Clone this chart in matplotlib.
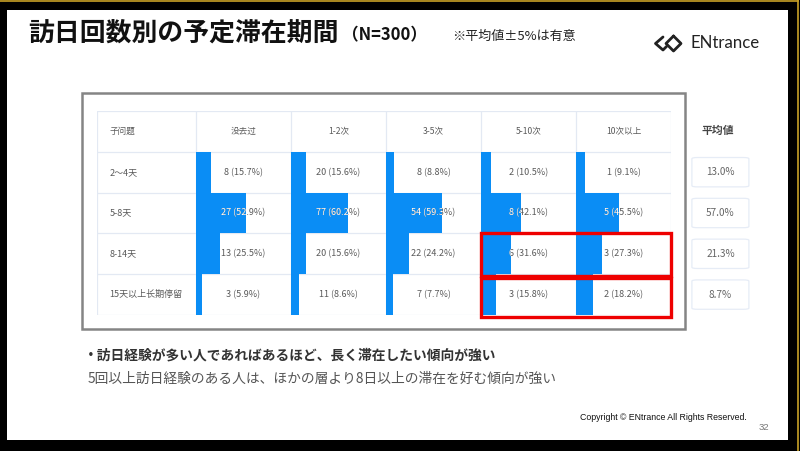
import matplotlib
matplotlib.use("Agg")
import matplotlib.pyplot as plt
from matplotlib.patches import Rectangle, FancyBboxPatch

plt.rcParams['font.family'] = ['Noto Sans CJK SC', 'DejaVu Sans']

# data
row_labels = ['2～4天', '5-8天', '8-14天', '15天以上长期停留']
col_labels = ['没去过', '1-2次', '3-5次', '5-10次', '10次以上']
counts = [[8, 20, 8, 2, 1],
          [27, 77, 54, 8, 5],
          [13, 20, 22, 6, 3],
          [3, 11, 7, 3, 2]]
pcts = [[15.7, 15.6, 8.8, 10.5, 9.1],
        [52.9, 60.2, 59.3, 42.1, 45.5],
        [25.5, 15.6, 24.2, 31.6, 27.3],
        [5.9, 8.6, 7.7, 15.8, 18.2]]
means = [13.0, 57.0, 21.3, 8.7]
highlight_rows = [2, 3]
highlight_cols = [3, 4]

BLUE = '#0A8DF5'
GRID = '#E3E9F3'
TXT = '#5a5a5a'
W, H = 800, 451

fig = plt.figure(figsize=(W / 100, H / 100), dpi=100, facecolor='black')

# background axes in pixel units
bg = fig.add_axes([0, 0, 1, 1])
bg.set_xlim(0, W)
bg.set_ylim(H, 0)
bg.axis('off')
bg.set_facecolor('black')
bg.add_patch(Rectangle((7, 10), 781, 430, facecolor='white', edgecolor='none'))
bg.plot([0, 798], [0.6, 0.6], color='#C9A227', lw=1.2)
bg.plot([797.5, 797.5], [0, 451], color='#C9A227', lw=1.2)

# title
bg.text(28, 33, '訪日回数別の予定滞在期間', fontsize=18.6, fontweight='bold',
        family=['Noto Sans CJK JP'], va='center', ha='left', color='#111')
bg.text(342, 35.5, '（N=300）', fontsize=12, fontweight='bold',
        family=['Noto Sans CJK JP'], va='center', ha='left', color='#111')
bg.text(452, 36, '※平均値±5%は有意', fontsize=9.4,
        family=['Noto Sans CJK JP'], va='center', ha='left', color='#222')

# logo
bg.plot([663, 655.5, 663, 666.5], [37, 43.5, 50, 46.5], color='#222', lw=2,
        solid_joinstyle='round', solid_capstyle='round')
bg.plot([673.5, 681, 673.5, 666, 673.5], [36, 43.5, 51, 43.5, 36], color='#222', lw=2,
        solid_joinstyle='round', solid_capstyle='round')
bg.text(691, 43.5, 'ENtrance', fontsize=12.1, family=['Lato'], va='center',
        ha='left', color='#222')

# outer gray frame
bg.add_patch(Rectangle((82, 93), 603, 236, facecolor='none', edgecolor='#858585', lw=1.8))

# comment lines
bg.text(84, 356, '・訪日経験が多い人であればあるほど、長く滞在したい傾向が強い',
        fontsize=9.9, fontweight='bold', family=['Noto Sans CJK JP'],
        va='center', ha='left', color='#333')
bg.text(88, 379, '5回以上訪日経験のある人は、ほかの層より8日以上の滞在を好む傾向が強い',
        fontsize=9.9, family=['Noto Sans CJK JP'], va='center', ha='left', color='#555')
bg.text(747, 418, 'Copyright © ENtrance All Rights Reserved.', fontsize=6.3,
        family=['Liberation Sans'], va='center', ha='right', color='#111')
bg.text(769, 427, '32', fontsize=6.8, family=['Liberation Sans'], va='center',
        ha='right', color='#777')

# table axes: columns are 1 unit wide, label column slightly wider
ncol = len(col_labels)
nrow = len(row_labels)
lab_w = 99 / 95
tab = fig.add_axes([97 / W, 1 - 315 / H, 574 / W, 204 / H])
tab.set_xlim(-lab_w, ncol)
tab.set_ylim(nrow, -1)
tab.axis('off')

# grid
for y in range(-1, nrow + 1):
    tab.plot([-lab_w, ncol], [y, y], color=GRID, lw=0.9, zorder=1)
for x in [-lab_w] + list(range(ncol + 1)):
    tab.plot([x, x], [-1, nrow], color=GRID, lw=0.9, zorder=1)

tab.text(-lab_w + 0.13, -0.5, '子问题', fontsize=6.2, color=TXT, va='center', ha='left')
for j, c in enumerate(col_labels):
    tab.text(j + 0.5, -0.5, c, fontsize=6.2, color=TXT, va='center', ha='center')

for i, r in enumerate(row_labels):
    tab.text(-lab_w + 0.13, i + 0.5, r, fontsize=6.5, color=TXT, va='center', ha='left')
    bars = tab.barh([i + 0.5] * ncol, [p / 100 for p in pcts[i]], height=1,
                    left=range(ncol), color=BLUE, zorder=2)
    for j in range(ncol):
        label = f'{counts[i][j]} ({pcts[i][j]}%)'
        tab.text(j + 0.5, i + 0.5, label, fontsize=6.5, color=TXT,
                 va='center', ha='center', zorder=3)
        # white part of the label where it sits on the bar
        t = tab.text(j + 0.5, i + 0.5, label, fontsize=6.5, color='white',
                     va='center', ha='center', zorder=4, clip_on=True)
        t.set_clip_path(bars[j])

# red highlight boxes
for i in highlight_rows:
    pad_top = 0.02 if i == highlight_rows[0] else -0.1
    tab.add_patch(Rectangle((highlight_cols[0], i - pad_top), len(highlight_cols),
                            1 + pad_top + 0.04, facecolor='none', edgecolor='#EE0000',
                            lw=2.4, clip_on=False, zorder=5))

# mean column
tab.text(5.49, -0.52, '平均値', fontsize=7.8, fontweight='bold', color='#444',
         va='center', ha='center', clip_on=False)
for i, m in enumerate(means):
    tab.add_patch(FancyBboxPatch((5.22, i + 0.14), 0.6, 0.72,
                                 boxstyle='round,pad=0,rounding_size=0.06',
                                 facecolor='white', edgecolor='#E6ECF6', lw=0.9,
                                 clip_on=False, mutation_aspect=0.5))
    tab.text(5.52, i + 0.5, f'{m:.1f}%', fontsize=7.2, color='#666',
             va='center', ha='center', clip_on=False)

fig.savefig('out.png', dpi=100, facecolor='black')
